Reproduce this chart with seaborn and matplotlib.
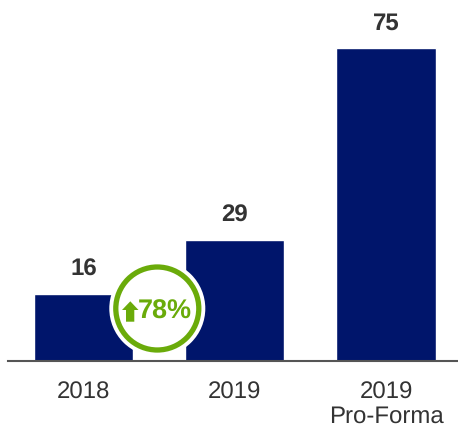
import matplotlib
matplotlib.use("Agg")
import matplotlib.pyplot as plt
from matplotlib.patches import Circle, Polygon
import pandas as pd
import seaborn as sns

categories = ["2018", "2019", "2019\nPro-Forma"]
values = [16, 29, 75]
growth_label = "78%"

NAVY = "#00156B"
GREEN = "#6AAB0A"
TEXT = "#333333"
W, H = 458, 427

sns.set_theme(style="white")
plt.rcParams["font.family"] = ["Liberation Sans", "DejaVu Sans"]
plt.rcParams["text.hinting"] = "none"
plt.rcParams["text.hinting_factor"] = 1

fig = plt.figure(figsize=(W / 100, H / 100), dpi=100, facecolor="white")
ax = fig.add_axes([8 / W, 1 - 361.5 / H, 450 / W, 361.5 / H])

df = pd.DataFrame({"period": categories, "value": values})
sns.barplot(data=df, x="period", y="value", color=NAVY, saturation=1,
            width=0.655, ax=ax)

# 151.25 px between bar centres, first centre at x = 83.5 px
ax.set_xlim(-0.4992, 2.4760)
ax.set_ylim(0, 361.5 / 4.17)
ax.set_xlabel("")
ax.set_ylabel("")
ax.set_yticks([])
ax.tick_params(axis="x", length=0, pad=14.5, labelsize=17.3, labelcolor=TEXT)
for label in ax.get_xticklabels():
    label.set_linespacing(1.05)
for side in ("top", "left", "right"):
    ax.spines[side].set_visible(False)
ax.spines["bottom"].set_color("#555555")
ax.spines["bottom"].set_linewidth(1.5)

for i, v in enumerate(values):
    ax.annotate(str(v), (i, v), xytext=(0, 10), textcoords="offset points",
                ha="center", va="bottom", fontsize=17.5, fontweight="bold",
                color=TEXT)

# Growth badge, placed in pixel coordinates on a transparent overlay
overlay = fig.add_axes([0, 0, 1, 1], facecolor="none")
overlay.set_xlim(0, W)
overlay.set_ylim(H, 0)
overlay.axis("off")

cx, cy = 157.3, 309.5
overlay.add_patch(Circle((cx, cy), 48, facecolor="white", edgecolor="none"))
overlay.add_patch(Circle((cx, cy), 41.5, facecolor="white", edgecolor=GREEN,
                         linewidth=3.8))
overlay.add_patch(Polygon(
    [(122, 311), (130.3, 302.3), (138.5, 311), (134.3, 311),
     (134.3, 322.7), (126, 322.7), (126, 311)],
    closed=True, facecolor=GREEN, edgecolor="none"))
overlay.text(138, 311.5, growth_label, ha="left", va="center", fontsize=19.5,
             fontweight="bold", color=GREEN)

fig.savefig("out.png", dpi=100)
